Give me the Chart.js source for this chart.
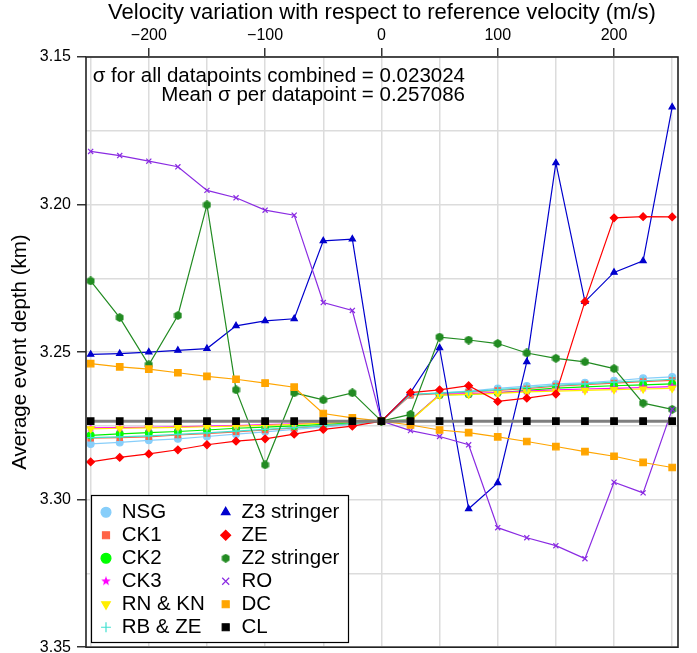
<!DOCTYPE html>
<html><head><meta charset="utf-8">
<script src="https://cdn.jsdelivr.net/npm/chart.js@4/dist/chart.umd.min.js"></script>
<style>html,body{margin:0;padding:0;background:#fff;}canvas{display:block;}</style>
</head><body>
<canvas id="c" width="697" height="653"></canvas>
<script>
// ---------- data ----------
const velocity = [-250,-225,-200,-175,-150,-125,-100,-75,-50,-25,0,25,50,75,100,125,150,175,200,225,250];

const NSG  = [3.2811,3.2806,3.2799,3.2794,3.2786,3.2778,3.2770,3.2762,3.2754,3.2745,3.2734,3.2645,3.2638,3.2632,3.2623,3.2615,3.2608,3.2604,3.2597,3.2589,3.2584];
const CK1  = [3.2792,3.2790,3.2787,3.2781,3.2776,3.2770,3.2764,3.2757,3.2750,3.2742,3.2734,3.2646,3.2641,3.2636,3.2630,3.2624,3.2615,3.2610,3.2605,3.2600,3.2596];
const CK2  = [3.2782,3.2777,3.2773,3.2769,3.2764,3.2758,3.2754,3.2750,3.2745,3.2740,3.2734,3.2730,3.2645,3.2643,3.2638,3.2630,3.2622,3.2618,3.2614,3.2611,3.2608];
const CK3  = [3.2757,3.2756,3.2755,3.2753,3.2751,3.2749,3.2746,3.2743,3.2740,3.2737,3.2734,3.2731,3.2644,3.2641,3.2637,3.2632,3.2628,3.2625,3.2623,3.2620,3.2617];
const RNKN = [3.2760,3.2758,3.2757,3.2755,3.2753,3.2751,3.2748,3.2745,3.2741,3.2737,3.2734,3.2732,3.2646,3.2643,3.2640,3.2635,3.2632,3.2630,3.2627,3.2625,3.2623];
const RBZE = [3.2790,3.2787,3.2784,3.2779,3.2774,3.2768,3.2762,3.2756,3.2749,3.2742,3.2734,3.2643,3.2639,3.2634,3.2627,3.2620,3.2613,3.2608,3.2602,3.2597,3.2592];
const Z3   = [3.2508,3.2505,3.2500,3.2494,3.2488,3.2411,3.2394,3.2387,3.2123,3.2117,3.2734,3.2637,3.2486,3.3031,3.2943,3.2533,3.1859,3.2329,3.2230,3.2191,3.1670];
const ZE   = [3.2872,3.2857,3.2845,3.2831,3.2814,3.2802,3.2794,3.2778,3.2762,3.2751,3.2734,3.2637,3.2628,3.2614,3.2667,3.2656,3.2642,3.2329,3.2045,3.2041,3.2042];
const Z2   = [3.2259,3.2383,3.2543,3.2376,3.2001,3.2628,3.2882,3.2638,3.2662,3.2638,3.2734,3.2711,3.2449,3.2459,3.2471,3.2503,3.2521,3.2533,3.2556,3.2673,3.2694];
const RO   = [3.1820,3.1834,3.1853,3.1872,3.1952,3.1977,3.2019,3.2036,3.2332,3.2359,3.2734,3.2766,3.2786,3.2814,3.3095,3.3129,3.3156,3.3200,3.2941,3.2977,3.2694];
const DC   = [3.2539,3.2550,3.2558,3.2570,3.2582,3.2592,3.2605,3.2619,3.2708,3.2723,3.2734,3.2747,3.2764,3.2773,3.2787,3.2803,3.2820,3.2837,3.2853,3.2874,3.2891];
const CL   = [3.2734,3.2734,3.2734,3.2734,3.2734,3.2734,3.2734,3.2734,3.2734,3.2734,3.2734,3.2734,3.2734,3.2734,3.2734,3.2734,3.2734,3.2734,3.2734,3.2734,3.2734];

const seriesNames  = ['NSG','CK1','CK2','CK3','RN & KN','RB & ZE','Z3 stringer','ZE','Z2 stringer','RO','DC','CL'];
const seriesValues = [NSG, CK1, CK2, CK3, RNKN, RBZE, Z3, ZE, Z2, RO, DC, CL];

const xGridTicks  = [-250,-200,-150,-100,-50,0,50,100,150,200,250];
const xLabelTicks = [-200,-100,0,100,200];
const yGridTicks  = [3.15,3.175,3.20,3.225,3.25,3.275,3.30,3.325,3.35];
const yLabelTicks = [3.15,3.20,3.25,3.30,3.35];

const xTitle = 'Velocity variation with respect to reference velocity (m/s)';
const yTitle = 'Average event depth (km)';
const noteLines = ['\u03c3 for all datapoints combined = 0.023024', 'Mean \u03c3 per datapoint = 0.257086'];

// ---------- styles ----------
const FONT = '"Liberation Sans", Arial, Helvetica, sans-serif';

function polyMarker(size, color, n, inner, startAngle) {
  const c = document.createElement('canvas');
  c.width = size; c.height = size;
  const g = c.getContext('2d');
  g.fillStyle = color;
  g.beginPath();
  const steps = inner ? n * 2 : n;
  for (let k = 0; k < steps; k++) {
    const r = (inner && k % 2 === 1) ? size / 2 * inner : size / 2;
    const a = startAngle + k * 2 * Math.PI / steps;
    g.lineTo(size / 2 + r * Math.cos(a), size / 2 + r * Math.sin(a));
  }
  g.closePath();
  g.fill();
  return c;
}
const starImg = polyMarker(10, '#FF00FF', 5, 0.42, -Math.PI / 2);
const hexImg  = polyMarker(9, '#228B22', 6, 0, -Math.PI / 2);

const styles = [
  {color:'#87CEFA', line:'#87CEFA', shape:'circle',   r:3.4},
  {color:'#FF6347', line:'#FF6347', shape:'rect',     r:3.8},
  {color:'#00FF00', line:'#00EE00', shape:'circle',   r:3.4},
  {color:'#FF00FF', line:'#FF00FF', shape:starImg,    r:4.2},
  {color:'#FFEE00', line:'#FFEE00', shape:'triangle', r:4.0, rot:180},
  {color:'#40E0D0', line:'#40E0D0', shape:'cross',    r:4.0},
  {color:'#0000CD', line:'#0000CD', shape:'triangle', r:3.6},
  {color:'#FF0000', line:'#FF0000', shape:'rectRot',  r:3.8},
  {color:'#228B22', line:'#228B22', shape:hexImg,     r:3.6},
  {color:'#8A2BE2', line:'#8A2BE2', shape:'crossRot', r:3.6},
  {color:'#FFA500', line:'#FFA500', shape:'rect',     r:4.6},
  {color:'#000000', line:'#7F7F7F', shape:'rect',     r:4.6, lw:3}
];

const datasets = seriesNames.map((name, i) => {
  const s = styles[i];
  return {
    label: name,
    data: seriesValues[i].map((v, k) => ({x: velocity[k], y: v})),
    borderColor: s.line,
    backgroundColor: s.color,
    borderWidth: s.lw || 1.2,
    pointStyle: s.shape,
    pointRotation: s.rot || 0,
    pointRadius: s.r,
    pointHoverRadius: s.r,
    pointBackgroundColor: s.color,
    pointBorderColor: s.color,
    pointBorderWidth: 1.2,
    tension: 0,
    fill: false,
    order: -i
  };
});

const fmtX = v => (v < 0 ? '\u2212' + Math.abs(v) : String(v));
const isLabeled = (arr, v) => arr.some(a => Math.abs(a - v) < 1e-6);

const LEG = {boxX: 91, boxY: 495, boxW: 257, boxH: 147, left: 98.05, top: 499.5, maxH: 150, col0: 117.2};

const framePlugin = {
  id: 'framePlugin',
  beforeLayout(chart) {
    const lg = chart.legend;
    if (lg) lg._layers = () => [{z: 10, draw: (ca) => lg.draw(ca)}];
  },
  afterLayout(chart) {
    const lg = chart.legend;
    if (!lg) return;
    lg.update(400, LEG.maxH, {left: 0, top: 0, right: 0, bottom: 0});
    if (lg.columnSizes && lg.columnSizes.length > 1) lg.columnSizes[0].width = LEG.col0;
    lg.left = LEG.left; lg.top = LEG.top;
    lg.width = 250; lg.height = LEG.maxH;
    lg.right = lg.left + lg.width; lg.bottom = lg.top + lg.height;
  },
  afterDatasetsDraw(chart) {
    const ctx = chart.ctx, a = chart.chartArea;
    ctx.save();
    ctx.fillStyle = '#000';
    ctx.font = '20.5px ' + FONT;
    ctx.textAlign = 'right';
    ctx.textBaseline = 'alphabetic';
    ctx.fillText(noteLines[0], 465, 81.5);
    ctx.fillText(noteLines[1], 465, 100.7);
    ctx.strokeStyle = '#222';
    ctx.lineWidth = 1.6;
    ctx.strokeRect(a.left, a.top, a.right - a.left, a.bottom - a.top);
    ctx.fillStyle = '#fff';
    ctx.fillRect(LEG.boxX, LEG.boxY, LEG.boxW, LEG.boxH);
    ctx.strokeStyle = '#000';
    ctx.lineWidth = 1.2;
    ctx.strokeRect(LEG.boxX + 0.5, LEG.boxY + 0.5, LEG.boxW, LEG.boxH);
    ctx.restore();
  }
};

new Chart(document.getElementById('c'), {
  type: 'line',
  data: {datasets},
  plugins: [framePlugin],
  options: {
    responsive: false,
    animation: false,
    devicePixelRatio: 1,
    layout: {padding: {left: 0, top: 0, right: 19, bottom: 2}},
    plugins: {
      tooltip: {enabled: false},
      legend: {
        position: 'chartArea',
        align: 'start',
        labels: {
          usePointStyle: true,
          boxWidth: 10.9,
          boxHeight: 7,
          padding: 2.5,
          color: '#000',
          font: {family: FONT, size: 20.5},
          sort: (a, b) => a.datasetIndex - b.datasetIndex
        }
      }
    },
    scales: {
      x: {
        type: 'linear',
        position: 'top',
        min: -254,
        max: 255,
        afterBuildTicks: s => { s.ticks = xGridTicks.map(v => ({value: v})); },
        afterFit: s => { s.height = 57; s.paddingLeft = 0; s.paddingRight = 0; },
        ticks: {
          autoSkip: false, maxRotation: 0, padding: 3, color: '#000',
          font: {family: FONT, size: 16},
          callback: v => isLabeled(xLabelTicks, v) ? fmtX(v) : ''
        },
        grid: {
          color: '#DCDCDC', lineWidth: 1.5, tickLength: 9, tickWidth: 1.5,
          tickColor: c => (c.tick && isLabeled(xLabelTicks, c.tick.value)) ? '#333' : 'rgba(0,0,0,0)'
        },
        border: {display: false},
        title: {display: true, text: xTitle, color: '#000', font: {family: FONT, size: 22}, padding: {top: 0, bottom: 0}}
      },
      y: {
        type: 'linear',
        reverse: true,
        min: 3.15,
        max: 3.35,
        afterBuildTicks: s => { s.ticks = yGridTicks.map(v => ({value: v})); },
        afterFit: s => { s.width = 86; s.paddingTop = 0; s.paddingBottom = 0; },
        ticks: {
          autoSkip: false, padding: 6, color: '#000',
          font: {family: FONT, size: 16},
          callback: v => isLabeled(yLabelTicks, v) ? v.toFixed(2) : ''
        },
        grid: {
          color: '#DCDCDC', lineWidth: 1.5, tickLength: 9, tickWidth: 1.5,
          tickColor: c => (c.tick && isLabeled(yLabelTicks, c.tick.value)) ? '#333' : 'rgba(0,0,0,0)'
        },
        border: {display: false},
        title: {display: true, text: yTitle, color: '#000', font: {family: FONT, size: 20.5}, padding: {top: 8, bottom: 0}}
      }
    }
  }
});
</script>
</body></html>
